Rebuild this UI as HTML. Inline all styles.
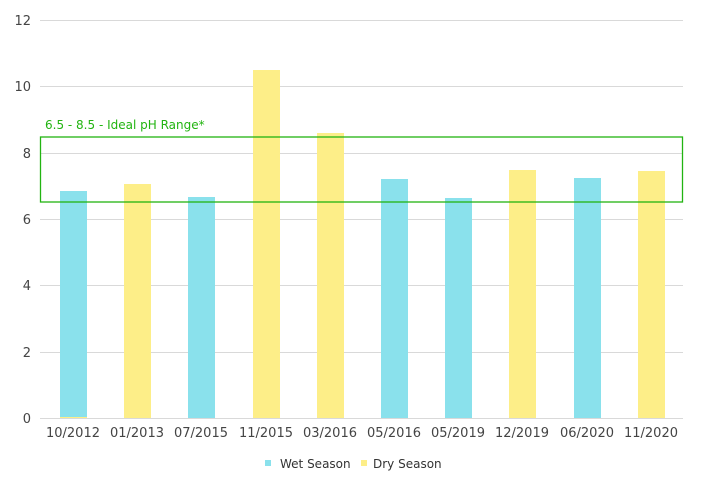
<!DOCTYPE html><html><head><style>body{margin:0;background:#fff}svg{display:block;font-family:"DejaVu Sans","Liberation Sans",sans-serif}</style></head><body>
<svg width="702" height="498" xmlns="http://www.w3.org/2000/svg">
<g stroke="#d9d9d9" stroke-width="1">
<line x1="40" x2="683" y1="20.5" y2="20.5"/><line x1="40" x2="683" y1="86.5" y2="86.5"/><line x1="40" x2="683" y1="153.5" y2="153.5"/><line x1="40" x2="683" y1="219.5" y2="219.5"/><line x1="40" x2="683" y1="285.5" y2="285.5"/><line x1="40" x2="683" y1="352.5" y2="352.5"/><line x1="40" x2="683" y1="418.5" y2="418.5"/>
</g>
<g font-size="13" fill="#444" text-anchor="end">
<text x="31" y="25">12</text><text x="31" y="91">10</text><text x="31" y="158">8</text><text x="31" y="224">6</text><text x="31" y="290">4</text><text x="31" y="357">2</text><text x="31" y="423">0</text>
</g>
<g fill="#8ae1ec">
<rect x="60" y="191" width="27" height="227"/><rect x="188" y="197" width="27" height="221"/><rect x="381" y="179" width="27" height="239"/><rect x="445" y="198" width="27" height="220"/><rect x="574" y="178" width="27" height="240"/>
</g>
<g fill="#fdee88">
<rect x="60" y="417" width="27" height="1"/><rect x="124" y="184" width="27" height="234"/><rect x="253" y="70" width="27" height="348"/><rect x="317" y="133" width="27" height="285"/><rect x="509" y="170" width="27" height="248"/><rect x="638" y="171" width="27" height="247"/>
</g>
<rect x="40.5" y="137" width="642" height="65" fill="none" stroke="#22b411" stroke-width="1.3"/>
<text x="45" y="129" font-size="12" fill="#22b411">6.5 - 8.5 - Ideal pH Range*</text>
<g font-size="13" fill="#444" text-anchor="middle">
<text x="73" y="437">10/2012</text><text x="137" y="437">01/2013</text><text x="201" y="437">07/2015</text><text x="266" y="437">11/2015</text><text x="330" y="437">03/2016</text><text x="394" y="437">05/2016</text><text x="458" y="437">05/2019</text><text x="522" y="437">12/2019</text><text x="587" y="437">06/2020</text><text x="651" y="437">11/2020</text>
</g>
<rect x="265" y="460" width="6" height="6" fill="#8ae1ec"/><text x="280" y="468" font-size="12" fill="#333">Wet Season</text>
<rect x="361" y="460" width="6" height="6" fill="#fdee88"/><text x="373" y="468" font-size="12" fill="#333">Dry Season</text>
</svg></body></html>
